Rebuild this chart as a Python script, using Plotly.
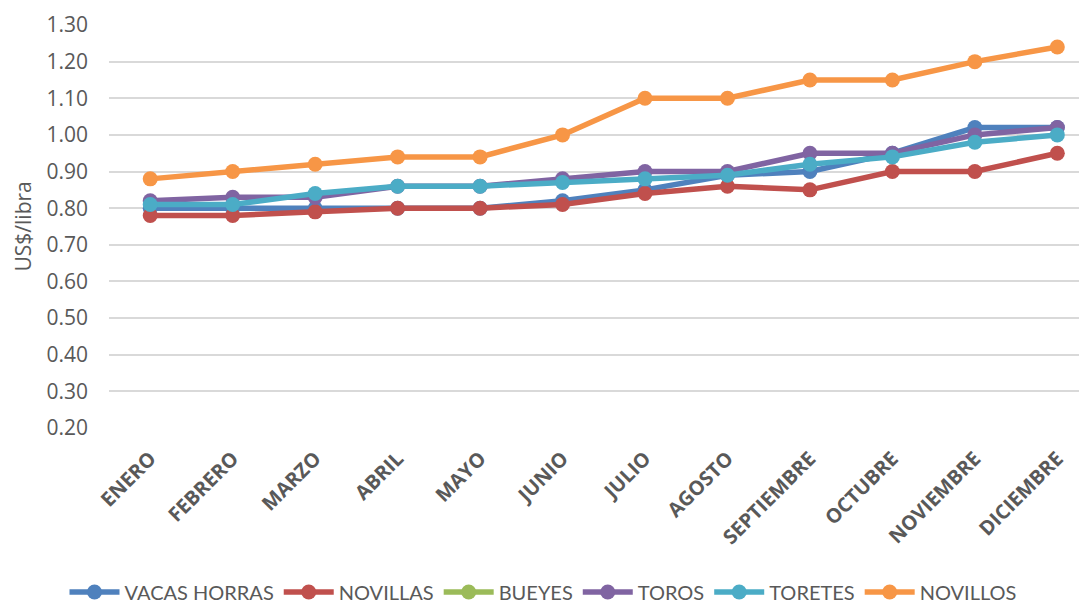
import plotly.graph_objects as go

months = ["ENERO", "FEBRERO", "MARZO", "ABRIL", "MAYO", "JUNIO", "JULIO",
          "AGOSTO", "SEPTIEMBRE", "OCTUBRE", "NOVIEMBRE", "DICIEMBRE"]

vacas_horras = [0.80, 0.80, 0.80, 0.80, 0.80, 0.82, 0.85, 0.89, 0.90, 0.95, 1.02, 1.02]
novillas = [0.78, 0.78, 0.79, 0.80, 0.80, 0.81, 0.84, 0.86, 0.85, 0.90, 0.90, 0.95]
bueyes = [None] * 12
toros = [0.82, 0.83, 0.83, 0.86, 0.86, 0.88, 0.90, 0.90, 0.95, 0.95, 1.00, 1.02]
toretes = [0.81, 0.81, 0.84, 0.86, 0.86, 0.87, 0.88, 0.89, 0.92, 0.94, 0.98, 1.00]
novillos = [0.88, 0.90, 0.92, 0.94, 0.94, 1.00, 1.10, 1.10, 1.15, 1.15, 1.20, 1.24]

series = [
    ("VACAS HORRAS", vacas_horras, "#4F81BD"),
    ("NOVILLAS", novillas, "#C0504D"),
    ("BUEYES", bueyes, "#9BBB59"),
    ("TOROS", toros, "#8064A2"),
    ("TORETES", toretes, "#4BACC6"),
    ("NOVILLOS", novillos, "#F79646"),
]

y_ticks = [0.20, 0.30, 0.40, 0.50, 0.60, 0.70, 0.80, 0.90, 1.00, 1.10, 1.20, 1.30]

fig = go.Figure()
x_idx = list(range(len(months)))
for name, vals, color in series:
    fig.add_trace(go.Scatter(
        x=x_idx, y=vals, name=name, mode="lines+markers",
        line=dict(color=color, width=5.5),
        marker=dict(color=color, size=15),
    ))

# page body has an 8px default margin; positions below are in window pixels
OFF = 8
W, H = 1087, 602
L = 109 - OFF
T = 25 - OFF
B = H - (428 - OFF)
R = OFF
PW = W - L - R
PH = H - T - B
fig.update_layout(
    width=W, height=H,
    margin=dict(l=L, r=R, t=T, b=B, pad=0, autoexpand=False),
    paper_bgcolor="white", plot_bgcolor="white",
    font=dict(family="Open Sans", color="#595959"),
    showlegend=True,
    legend=dict(orientation="h", x=(543 - OFF - L) / PW, xanchor="center",
                y=-(592 - 428) / PH, yanchor="middle",
                font=dict(size=20, color="#595959", family="Lato"),
                itemwidth=50, traceorder="normal"),
    xaxis=dict(
        range=[-0.5, 11.36], tickmode="array", tickvals=x_idx, ticktext=months,
        tickangle=-45, tickfont=dict(size=20, color="#595959", family="Open Sans", weight="bold"),
        showgrid=False, zeroline=False, showline=False, ticks="",
        automargin=False, ticklabelstandoff=14,
    ),
    yaxis=dict(
        range=[0.2, 1.3], tickmode="array", tickvals=y_ticks,
        ticktext=[f"{v:.2f}" for v in y_ticks],
        tickfont=dict(size=21, color="#595959"),
        showgrid=True, gridcolor="#D9D9D9", gridwidth=1.5,
        zeroline=False, showline=False, ticks="", ticklabelstandoff=20,
        automargin=False,
    ),
    annotations=[dict(
        text="US$/libra", xref="paper", yref="paper",
        x=(22 - OFF - L) / PW, y=0.5,
        xanchor="center", yanchor="middle", textangle=-90, showarrow=False,
        font=dict(size=21, color="#595959", family="Open Sans"),
    )],
)

fig.write_html("out.html")
